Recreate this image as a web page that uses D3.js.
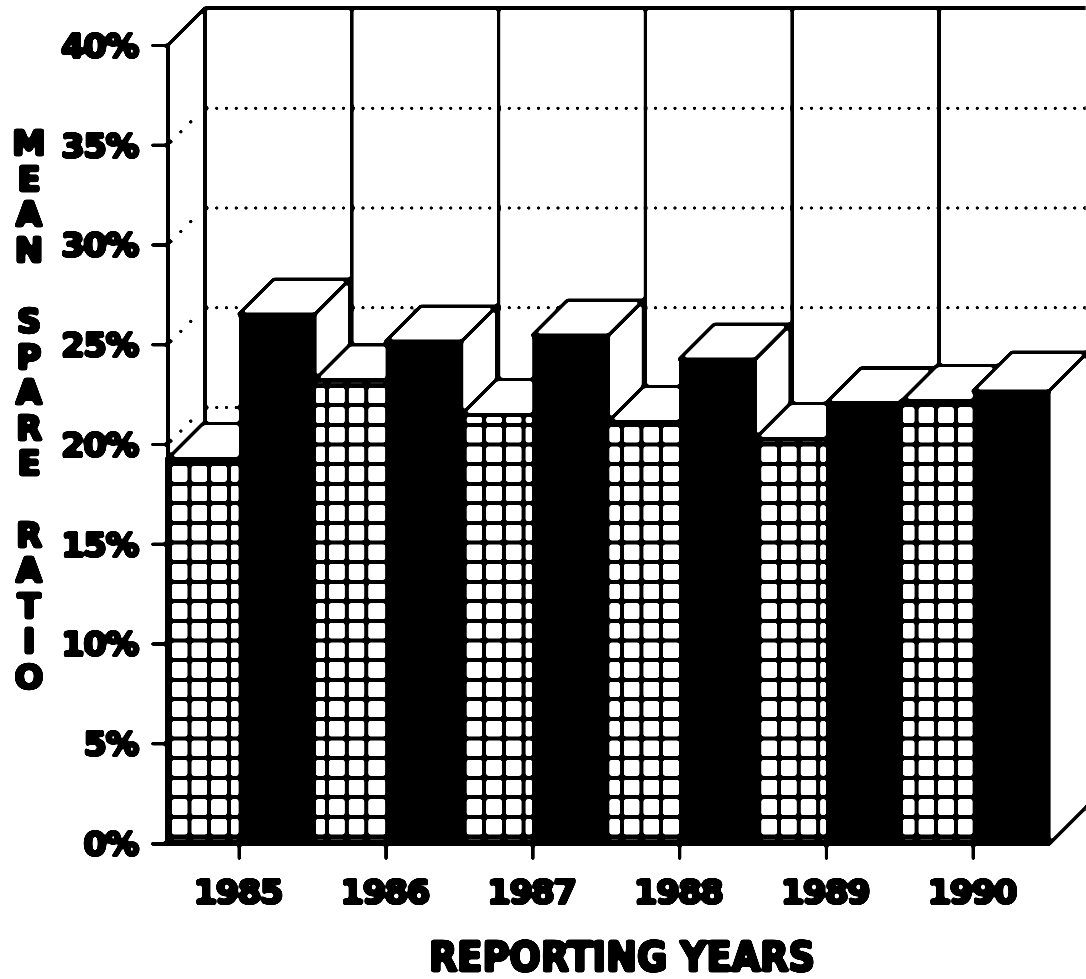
<!DOCTYPE html>
<html>
<head>
<meta charset="utf-8">
<script src="https://cdn.jsdelivr.net/npm/d3@7"></script>
<style>
  html, body { margin: 0; padding: 0; background: #fff; }
  svg { display: block; }
  .digits text { font-family: "DejaVu Sans", sans-serif; font-weight: 700; font-size: 34px; letter-spacing: -1.5px;
         fill: #000; stroke: #000; stroke-width: 2.6px; stroke-linejoin: round; }
  .caps { font-family: "DejaVu Sans", sans-serif; font-weight: 700; fill: #000; stroke: #000;
          stroke-width: 3px; stroke-linejoin: round; white-space: pre; }
</style>
</head>
<body>
<svg id="chart" width="1086" height="979">
  <defs>
    <!-- Heavy photocopy look: soften the drawing, then snap it back to black and white -->
    <filter id="inked" x="0" y="0" width="1086" height="979" filterUnits="userSpaceOnUse" color-interpolation-filters="sRGB">
      <feGaussianBlur stdDeviation="1"/>
      <feComponentTransfer>
        <feFuncR type="linear" slope="6" intercept="-2.5"/>
        <feFuncG type="linear" slope="6" intercept="-2.5"/>
        <feFuncB type="linear" slope="6" intercept="-2.5"/>
      </feComponentTransfer>
    </filter>
  </defs>
</svg>
<script>
// Mean spare ratio by reporting year, two series per year
const years = ["1985", "1986", "1987", "1988", "1989", "1990"];
const hatchedValues = [19.35, 23.3, 21.55, 21.2, 20.35, 22.25];
const solidValues = [26.55, 25.2, 25.5, 24.3, 22.1, 22.7];
const percentTicks = [0, 5, 10, 15, 20, 25, 30, 35, 40];
const dottedLevels = [20, 25, 30, 35];
const yTitle = "MEAN SPARE RATIO";
const xTitle = "REPORTING YEARS";

const root = d3.select("#chart").append("g").attr("filter", "url(#inked)");
root.append("rect").attr("width", 1086).attr("height", 979).attr("fill", "#fff");

const y = d3.scaleLinear().domain([0, 40]).range([843, 45]);
const x = d3.scaleBand().domain(years).range([168, 1048.8]);
const step = x.step();
const hatchedWidth = step * 0.482;
const xTick = d3.scaleOrdinal(years, years.map(d => x(d) + hatchedWidth));

// Oblique depth: walls sit a little further back than the bars reach
const wallDepth = 37;
const barDepth = 35;
const wallTop = 8;
const wallLeft = x.range()[0] + wallDepth;
const lineWidth = 3.5;

const walls = root.append("g").attr("fill", "none").attr("stroke", "#000").attr("stroke-width", lineWidth);

// Dotted levels on the side and back walls
const dots = root.append("g").attr("stroke", "#000").attr("stroke-linecap", "round").attr("fill", "none");
dots.selectAll(".back").data(dottedLevels).join("line").attr("class", "back")
  .attr("x1", wallLeft + 2).attr("x2", 1086)
  .attr("y1", d => y(d) - wallDepth + 0.5).attr("y2", d => y(d) - wallDepth + 0.5)
  .attr("stroke-width", 4.2).attr("stroke-dasharray", "0 9.75");
dots.selectAll(".side").data(dottedLevels).join("line").attr("class", "side")
  .attr("x1", x.range()[0] + 3).attr("x2", wallLeft - 5)
  .attr("y1", d => y(d) - 3).attr("y2", d => y(d) - wallDepth + 5)
  .attr("stroke-width", 4.2).attr("stroke-dasharray", "0 14");

// Wall outlines and the back-wall dividers
walls.append("path").attr("d", d3.line()([
  [x.range()[0], y(0)], [x.range()[0], y(40)], [wallLeft, wallTop], [1086, wallTop]
]));
walls.selectAll(".divider").data([0, 1, 2, 3, 4, 5]).join("line").attr("class", "divider")
  .attr("x1", i => wallLeft + i * step).attr("x2", i => wallLeft + i * step)
  .attr("y1", wallTop).attr("y2", y(0) - wallDepth);

// One hatch lattice shared by all the hatched bars
const hatchPitchX = 19.65, hatchPitchY = 19.6, hatchWidth = 4;
const hatchX = d3.range(-1, 45).map(k => 189.5 + k * hatchPitchX);
const hatchY = d3.range(0, 42).map(k => 836.5 - k * hatchPitchY);

const bars = root.append("g");

function boxFaces(g, x0, x1, top, depth) {
  const base = y(0) + 1.5;
  // right face, then the top face
  g.append("path").attr("fill", "#fff").attr("stroke", "#000").attr("stroke-width", lineWidth)
    .attr("stroke-linejoin", "round")
    .attr("d", d3.line()([[x1, top], [x1 + depth, top - depth], [x1 + depth, base - depth], [x1, base]]) + "Z");
  g.append("path").attr("fill", "#fff").attr("stroke", "#000").attr("stroke-width", lineWidth)
    .attr("stroke-linejoin", "round")
    .attr("d", d3.line()([[x0, top], [x0 + depth, top - depth], [x1 + depth, top - depth], [x1, top]]) + "Z");
}

years.forEach((year, i) => {
  const g = bars.append("g");

  // Hatched bar: white front, lattice lines, heavy edges
  const hx0 = x(year), hx1 = x(year) + hatchedWidth;
  const hTop = y(hatchedValues[i]);
  const base = y(0) + 2;
  boxFaces(g, hx0, hx1, hTop + 1.5, barDepth);
  g.append("rect").attr("x", hx0).attr("y", hTop).attr("width", hx1 - hx0).attr("height", base - hTop).attr("fill", "#fff");
  g.append("g").attr("stroke", "#000").attr("stroke-width", hatchWidth)
    .selectAll("line").data(hatchX.filter(v => v > hx0 && v < hx1)).join("line")
    .attr("x1", d => d).attr("x2", d => d).attr("y1", hTop).attr("y2", base);
  g.append("g").attr("stroke", "#000").attr("stroke-width", hatchWidth)
    .selectAll("line").data(hatchY.filter(v => v > hTop && v < base)).join("line")
    .attr("x1", hx0).attr("x2", hx1).attr("y1", d => d).attr("y2", d => d);
  g.append("line").attr("x1", hx0).attr("x2", hx1).attr("y1", hTop + 2).attr("y2", hTop + 2)
    .attr("stroke", "#000").attr("stroke-width", 4);
  g.append("rect").attr("x", hx0 - 3).attr("y", hTop).attr("width", i === 0 ? 7 : 4).attr("height", base - hTop).attr("fill", "#000");
  g.append("rect").attr("x", hx0).attr("y", base - 5).attr("width", hx1 - hx0).attr("height", 5).attr("fill", "#000");

  // Solid bar; the rear edge of the last one runs off the side of the sheet
  const sx0 = hx1, sx1 = x(year) + step;
  const sTop = y(solidValues[i]);
  boxFaces(g, sx0, sx1, sTop + 1, i === years.length - 1 ? barDepth + 4 : barDepth);
  g.append("rect").attr("x", sx0).attr("y", sTop).attr("width", sx1 - sx0).attr("height", base - sTop).attr("fill", "#000");
});

// Floor line along the front of the chart
root.append("line").attr("x1", 151).attr("x2", x.range()[1]).attr("y1", y(0) + 1).attr("y2", y(0) + 1)
  .attr("stroke", "#000").attr("stroke-width", lineWidth);

// Axes
const yAxis = root.append("g").attr("class", "digits").attr("transform", `translate(${x.range()[0]},0)`)
  .call(d3.axisLeft(y).tickValues(percentTicks).tickFormat(d => d + "%").tickSize(17).tickPadding(13));
yAxis.select(".domain").remove();
yAxis.selectAll("line").attr("stroke", "#000").attr("stroke-width", lineWidth);
yAxis.selectAll("text").attr("dy", "0.36em");

const xAxis = root.append("g").attr("class", "digits").attr("transform", `translate(0,${y(0) + 2})`)
  .call(d3.axisBottom(xTick).tickSize(15).tickPadding(20));
xAxis.select(".domain").remove();
xAxis.selectAll("line").attr("stroke", "#000").attr("stroke-width", lineWidth);
xAxis.selectAll("text").attr("dx", -1.5);

// Stacked axis title: a single text with one row per character
const titleChars = Array.from(yTitle);
root.append("text").attr("class", "caps").attr("font-size", 34).attr("text-anchor", "middle")
  .attr("x", titleChars.map(() => 29).join(" "))
  .attr("y", titleChars.map((d, i) => 155 + i * 35.6).join(" "))
  .text(yTitle);

root.append("text").attr("class", "caps").attr("font-size", 40).attr("text-anchor", "middle")
  .attr("x", 622).attr("y", 971).attr("textLength", 386).attr("lengthAdjust", "spacingAndGlyphs").text(xTitle);
</script>
</body>
</html>
